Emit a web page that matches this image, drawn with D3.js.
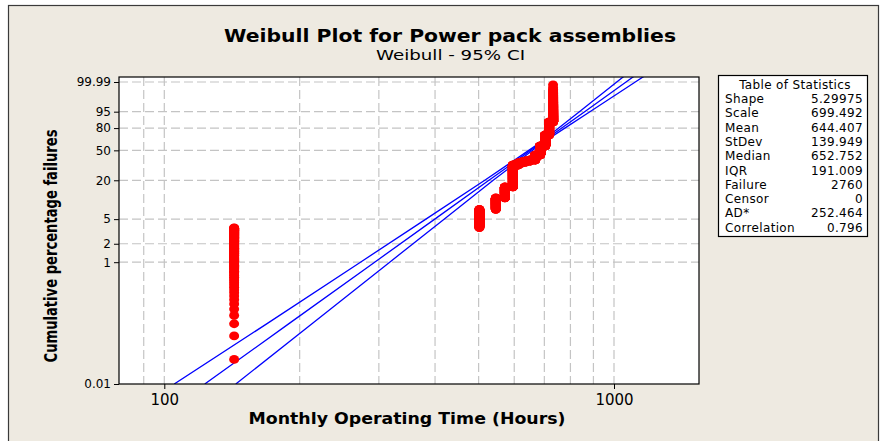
<!DOCTYPE html>
<html>
<head>
<meta charset="utf-8">
<script src="https://cdn.jsdelivr.net/npm/d3@7"></script>
<style>
  body { margin: 0; background: #fff; }
  svg { display: block; font-family: "DejaVu Sans", Verdana, sans-serif; }
</style>
</head>
<body>
<div id="chart"></div>
<script>

// failure times (hours) and how many failures sit at each time
var failHours  = [143, 502, 546, 572, 596, 612, 624, 637, 651, 668, 685, 703, 717, 732];
var failCounts = [100, 97, 101, 141, 467, 58, 29, 30, 31, 162, 324, 421, 435, 364];

// fitted line and 95% bounds: time (hours) at each cumulative percent
var linePct   = [0.01, 0.1, 1, 5, 20, 50, 63.2, 80, 95, 99.99, 99.9999];
var fitHours  = [123.0, 190.0, 293.6, 399.4, 527.1, 652.8, 699.5, 765.3, 860.4, 1063.5, 1148];
var lowHours  = [105.2, 169.9, 273.0, 381.7, 516.0, 646.3, 694.6, 753.4, 837.5, 1014.3, 1086.8];
var highHours = [144.2, 213.7, 317.1, 418.9, 538.7, 659.3, 704.4, 777.4, 883.9, 1115.2, 1212.6];

// axis ticks
var yTicks = [0.01, 1, 2, 5, 20, 50, 80, 95, 99.99];
var yTickLabels = ["0.01", "1", "2", "5", "20", "50", "80", "95", "99.99"];
var xTicks = [100, 1000];
var xGrid = [90, 100, 200, 300, 400, 500, 600, 700, 800, 900, 1000];

// table of statistics
var statNames  = ["Shape", "Scale", "Mean", "StDev", "Median", "IQR", "Failure", "Censor", "AD*", "Correlation"];
var statValues = ["5.29975", "699.492", "644.407", "139.949", "652.752", "191.009", "2760", "0", "252.464", "0.796"];

var W = 881, H = 441;
var plot = {left: 119, right: 699, top: 77, bottom: 384};

// weibull probability paper: ln(-ln(1-p))
function wb(pct) { return Math.log(-Math.log(1 - pct / 100)); }

var x = d3.scaleLog().domain([100, 1000]).range([164.3, 614]);
var y = d3.scaleLinear().domain([wb(0.01), wb(99.99)]).range([384, 82]);

var svg = d3.select("#chart").append("svg")
  .attr("width", W)
  .attr("height", H);

// outer frame
svg.append("rect")
  .attr("x", 8.5).attr("y", 5.5)
  .attr("width", 870).attr("height", 450)
  .attr("fill", "#eeeae1")
  .attr("stroke", "#3a3a3a")
  .attr("stroke-width", 1.2);

// plot area
svg.append("rect")
  .attr("x", plot.left).attr("y", plot.top)
  .attr("width", plot.right - plot.left).attr("height", plot.bottom - plot.top)
  .attr("fill", "#fff");

svg.append("clipPath").attr("id", "clip")
  .append("rect")
  .attr("x", plot.left).attr("y", plot.top)
  .attr("width", plot.right - plot.left).attr("height", plot.bottom - plot.top);

// grid
var grid = svg.append("g")
  .attr("stroke", "#c4c4c4")
  .attr("stroke-width", 1.2)
  .attr("stroke-dasharray", "9,4");

grid.selectAll("line.v").data(xGrid).enter().append("line")
  .attr("class", "v")
  .attr("x1", function(d) { return x(d); }).attr("x2", function(d) { return x(d); })
  .attr("y1", plot.top).attr("y2", plot.bottom);

grid.selectAll("line.h").data(yTicks.slice(1)).enter().append("line")
  .attr("class", "h")
  .attr("x1", plot.left).attr("x2", plot.right)
  .attr("y1", function(d) { return y(wb(d)); }).attr("y2", function(d) { return y(wb(d)); });

// fitted line and confidence bounds
var line = d3.line()
  .x(function(d) { return x(d[0]); })
  .y(function(d) { return y(wb(d[1])); });

var lines = svg.append("g").attr("clip-path", "url(#clip)");
[lowHours, fitHours, highHours].forEach(function(hrs) {
  lines.append("path")
    .datum(hrs.map(function(h, i) { return [h, linePct[i]]; }))
    .attr("d", line)
    .attr("fill", "none")
    .attr("stroke", "#0000ff")
    .attr("stroke-width", 1.3);
});

// failure points with median ranks
var n = d3.sum(failCounts);
var pts = [];
var rank = 0;
failHours.forEach(function(h, g) {
  for (var k = 0; k < failCounts[g]; k++) {
    rank++;
    pts.push({t: h, pct: 100 * (rank - 0.3) / (n + 0.4)});
  }
});

svg.append("g").attr("clip-path", "url(#clip)")
  .selectAll("ellipse").data(pts).enter().append("ellipse")
  .attr("cx", function(d) { return x(d.t); })
  .attr("cy", function(d) { return y(wb(d.pct)); })
  .attr("rx", 5).attr("ry", 4.4)
  .attr("fill", "#ff0000");

// plot border
svg.append("rect")
  .attr("x", plot.left).attr("y", plot.top)
  .attr("width", plot.right - plot.left).attr("height", plot.bottom - plot.top)
  .attr("fill", "none")
  .attr("stroke", "#000")
  .attr("stroke-width", 1.2);

// axes
var yAxis = d3.axisLeft(y)
  .tickValues(yTicks.map(wb))
  .tickFormat(function(d, i) { return yTickLabels[i]; })
  .tickSize(5).tickPadding(3);

svg.append("g")
  .attr("transform", "translate(" + plot.left + ",0)")
  .call(yAxis)
  .call(function(g) {
    g.select(".domain").remove();
    g.selectAll("text").attr("font-size", 12).attr("font-family", "DejaVu Sans").attr("fill", "#000");
    g.selectAll("line").attr("stroke", "#000");
  });

var xAxis = d3.axisBottom(x)
  .tickValues(xTicks)
  .tickFormat(d3.format("d"))
  .tickSize(5).tickPadding(5);

svg.append("g")
  .attr("transform", "translate(0," + plot.bottom + ")")
  .call(xAxis)
  .call(function(g) {
    g.select(".domain").remove();
    g.selectAll("text").attr("font-size", 15).attr("font-family", "DejaVu Sans").attr("fill", "#000");
    g.selectAll("line").attr("stroke", "#000");
  });

// titles
svg.append("text")
  .attr("x", 450).attr("y", 42)
  .attr("text-anchor", "middle")
  .attr("font-size", 17).attr("font-weight", "bold")
  .attr("textLength", 452).attr("lengthAdjust", "spacingAndGlyphs")
  .text("Weibull Plot for Power pack assemblies");

svg.append("text")
  .attr("x", 450.5).attr("y", 60)
  .attr("text-anchor", "middle")
  .attr("font-size", 14.5)
  .attr("textLength", 149).attr("lengthAdjust", "spacingAndGlyphs")
  .text("Weibull - 95% CI");

svg.append("text")
  .attr("x", 407).attr("y", 424)
  .attr("text-anchor", "middle")
  .attr("font-size", 15.5).attr("font-weight", "bold")
  .attr("textLength", 317).attr("lengthAdjust", "spacingAndGlyphs")
  .text("Monthly Operating Time (Hours)");

svg.append("text")
  .attr("transform", "translate(57,246) rotate(-90)")
  .attr("text-anchor", "middle")
  .attr("font-family", "'Liberation Sans Narrow', 'DejaVu Sans Condensed', sans-serif")
  .attr("font-size", 17).attr("font-weight", "bold")
  .attr("textLength", 233).attr("lengthAdjust", "spacingAndGlyphs")
  .text("Cumulative percentage failures");

// table of statistics
var tbl = svg.append("g")
  .attr("transform", "translate(718,75)")
  .attr("font-size", 12)
  .attr("letter-spacing", "0.35px");

tbl.append("rect")
  .attr("x", 0.5).attr("y", 0.5)
  .attr("width", 149).attr("height", 161)
  .attr("fill", "#fff")
  .attr("stroke", "#000")
  .attr("stroke-width", 1.2);

tbl.append("text")
  .attr("x", 77).attr("y", 14)
  .attr("text-anchor", "middle")
  .text("Table of Statistics");

statNames.forEach(function(name, i) {
  var ty = 28 + i * 14.3;
  tbl.append("text").attr("x", 7).attr("y", ty).text(name);
  tbl.append("text").attr("x", 145).attr("y", ty)
    .attr("text-anchor", "end")
    .text(statValues[i]);
});

</script>
</body>
</html>
